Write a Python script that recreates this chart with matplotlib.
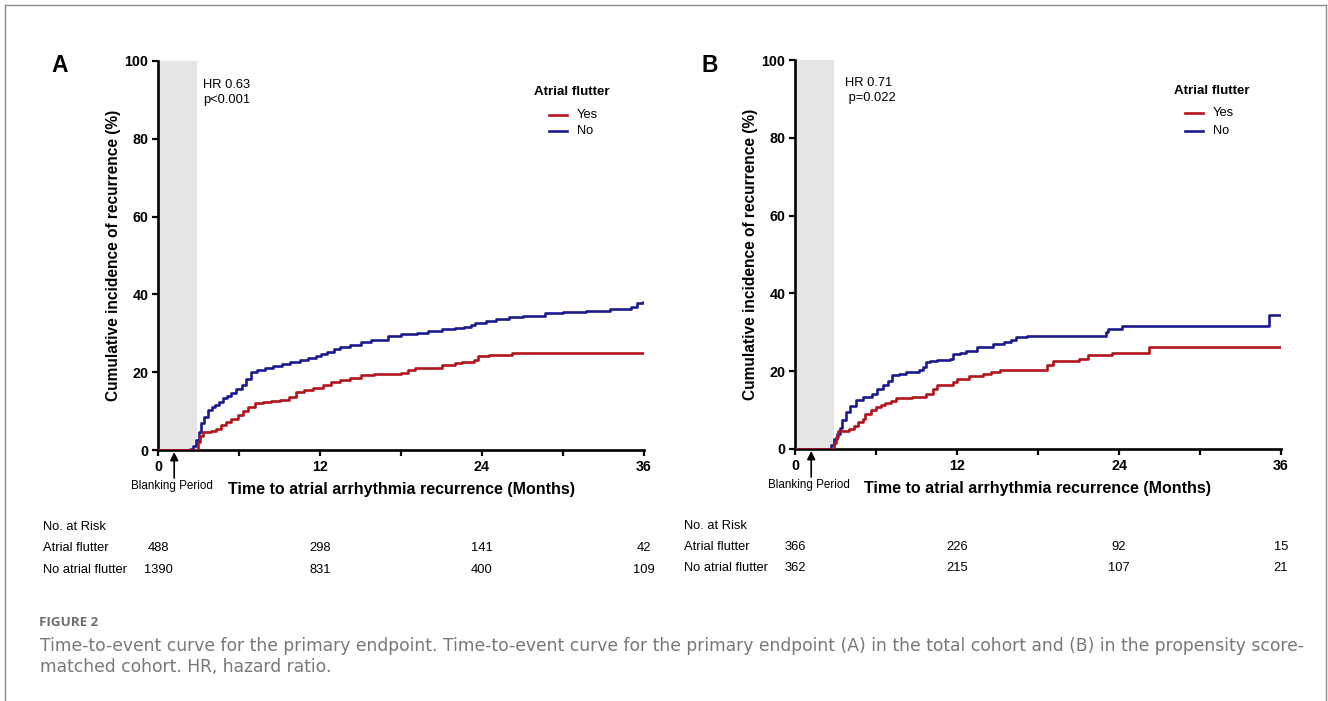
import matplotlib
matplotlib.use("Agg")
import matplotlib.pyplot as plt
from matplotlib.lines import Line2D
from matplotlib.transforms import blended_transform_factory

plt.rcParams['font.family'] = ['Liberation Sans', 'DejaVu Sans']

# ---------------- data ----------------
a_no_t = [0, 2.4, 2.6, 2.8, 3.0, 3.2, 3.4, 3.7, 4.0, 4.2, 4.5, 4.8, 5.1, 5.4, 5.8, 6.2, 6.5, 6.9, 7.3,
          7.9, 8.5, 9.2, 9.8, 10.5, 11.1, 11.7, 12.1, 12.5, 13.0, 13.5, 14.2, 15.0, 15.8, 17.0, 18.0,
          19.2, 20.0, 21.0, 22.0, 22.7, 23.2, 23.5, 24.3, 25.0, 26.0, 27.0, 28.7, 30.0, 31.7, 33.5,
          35.0, 35.5, 35.9, 36]
a_no_v = [0, 0.3, 1.0, 2.5, 4.5, 6.9, 8.5, 10.3, 11.0, 11.6, 12.4, 13.3, 13.9, 14.6, 15.6, 16.7, 18.2,
          20.1, 20.5, 21.0, 21.5, 22.1, 22.6, 23.1, 23.6, 24.2, 24.8, 25.3, 25.9, 26.4, 27.0, 27.8,
          28.3, 29.3, 29.7, 30.2, 30.6, 31.0, 31.3, 31.5, 32.2, 32.7, 33.2, 33.8, 34.1, 34.4, 35.1,
          35.4, 35.8, 36.2, 36.8, 37.7, 38.1, 38.1]
a_yes_t = [0, 2.95, 3.1, 3.3, 3.9, 4.3, 4.7, 5.0, 5.4, 5.9, 6.3, 6.7, 7.2, 7.8, 8.4, 9.0, 9.7, 10.2,
           10.8, 11.5, 12.2, 12.8, 13.5, 14.2, 15.0, 16.0, 18.0, 18.5, 19.0, 20.0, 21.0, 22.0, 22.5,
           23.4, 23.7, 24.5, 26.2, 36]
a_yes_v = [0, 2.0, 3.5, 4.5, 4.9, 5.5, 6.4, 7.2, 7.9, 9.0, 10.0, 11.1, 12.0, 12.4, 12.6, 12.9, 13.5,
           15.0, 15.5, 15.9, 16.8, 17.5, 18.1, 18.6, 19.3, 19.6, 19.7, 20.5, 21.0, 21.2, 21.9, 22.3,
           22.7, 23.2, 24.2, 24.3, 25.0, 25.0]

b_no_t = [0, 2.7, 2.9, 3.1, 3.3, 3.5, 3.8, 4.1, 4.5, 5.0, 5.7, 6.1, 6.5, 6.9, 7.2, 7.7, 8.2, 9.2, 9.5,
          9.7, 10.0, 10.5, 11.5, 11.7, 12.2, 12.7, 13.5, 14.7, 15.5, 16.0, 16.4, 17.2, 22.6, 23.0,
          23.2, 24.2, 35.0, 35.1, 36]
b_no_v = [0, 1.0, 2.5, 3.9, 5.5, 7.4, 9.5, 11.0, 12.5, 13.4, 14.2, 15.3, 16.4, 17.5, 19.0, 19.2, 19.8,
          20.2, 21.0, 22.4, 22.7, 23.0, 23.2, 24.5, 24.8, 25.2, 26.1, 26.9, 27.5, 28.1, 28.7, 29.0,
          29.0, 30.1, 30.9, 31.6, 31.6, 34.4, 34.4]
b_yes_t = [0, 2.9, 3.0, 3.2, 4.0, 4.4, 4.7, 5.0, 5.2, 5.6, 6.0, 6.4, 6.7, 7.1, 7.5, 8.7, 9.7, 10.2,
           10.5, 11.7, 12.0, 12.9, 13.9, 14.5, 15.2, 18.7, 19.1, 21.0, 21.7, 23.5, 26.2, 36]
b_yes_v = [0, 1.5, 3.0, 4.6, 5.2, 6.0, 6.9, 7.8, 9.1, 10.0, 10.8, 11.3, 11.7, 12.4, 13.0, 13.4, 14.2,
           15.5, 16.4, 17.2, 18.1, 18.7, 19.4, 19.9, 20.4, 21.5, 22.6, 23.2, 24.1, 24.7, 26.1, 26.1]

risk_times = [0, 12, 24, 36]
a_risk_af = [488, 298, 141, 42]
a_risk_noaf = [1390, 831, 400, 109]
b_risk_af = [366, 226, 92, 15]
b_risk_noaf = [362, 215, 107, 21]

legend_labels = ['Yes', 'No']

panels = [
    dict(letter="A", hr="HR 0.63\np<0.001", no=(a_no_t, a_no_v), yes=(a_yes_t, a_yes_v),
         risk=(a_risk_af, a_risk_noaf), left=158, top=61, bottom=450, tab_x=43,
         tab_y=(527, 548, 570), letter_x=60, letter_y=66, hr_x=203, hr_y=79,
         leg_title_x=572, leg_line_x=549, leg_y=(92, 115, 131)),
    dict(letter="B", hr="HR 0.71\n p=0.022", no=(b_no_t, b_no_v), yes=(b_yes_t, b_yes_v),
         risk=(b_risk_af, b_risk_noaf), left=795, top=60, bottom=449, tab_x=684,
         tab_y=(526, 547, 568), letter_x=710, letter_y=65, hr_x=845, hr_y=77,
         leg_title_x=1212, leg_line_x=1185, leg_y=(91, 113, 131)),
]

RED = '#B2151E'
BLUE = '#1B1B8E'
W, H = 1328, 701
fig = plt.figure(figsize=(W / 100, H / 100), dpi=100)


def fx(px):
    return px / W


def fy(py):
    return 1 - py / H


# frame around figure (open at bottom)
for xs, ys in [([4.5, 4.5], [701, 5]), ([4.5, 1325.5], [5, 5]), ([1325.5, 1325.5], [5, 701])]:
    fig.add_artist(Line2D([fx(x) for x in xs], [fy(y) for y in ys], transform=fig.transFigure,
                          color='#8a8a8a', lw=1.0))

for p in panels:
    axw = 486
    ax = fig.add_axes([fx(p['left']), fy(p['bottom']), axw / W, (p['bottom'] - p['top']) / H])
    ax.set_xlim(0, 36)
    ax.set_ylim(0, 100)
    ax.axvspan(0, 2.9, color='#e5e5e5', lw=0, zorder=0)
    ax.plot(p['yes'][0], p['yes'][1], drawstyle='steps-post', color=RED, lw=1.9, zorder=3)
    ax.plot(p['no'][0], p['no'][1], drawstyle='steps-post', color=BLUE, lw=1.9, zorder=2)
    for s in ['top', 'right']:
        ax.spines[s].set_visible(False)
    for s in ['left', 'bottom']:
        ax.spines[s].set_linewidth(1.9)
    ax.set_xticks([0, 12, 24, 36])
    ax.set_xticks([6, 18, 30], minor=True)
    ax.set_yticks([0, 20, 40, 60, 80, 100])
    ax.tick_params(axis='both', which='both', direction='out', length=4.5, width=1.6,
                   labelsize=10.3, pad=2.5)
    for lab in ax.get_xticklabels() + ax.get_yticklabels():
        lab.set_fontweight('bold')
    ax.set_ylabel('Cumulative incidence of recurrence (%)', fontsize=11.2, fontweight='bold')
    ax.yaxis.set_label_coords(-0.077, 0.5)
    ax.set_xlabel('Time to atrial arrhythmia recurrence (Months)', fontsize=11.5, fontweight='bold')
    ax.xaxis.set_label_coords(0.5, -0.081)
    fig.text(fx(p['hr_x']), fy(p['hr_y']), p['hr'], fontsize=9.3, va='top', ha='left',
             linespacing=1.3)
    # legend drawn manually
    ty = p['leg_y']
    fig.text(fx(p['leg_title_x']), fy(ty[0]), 'Atrial flutter', fontsize=9.6, fontweight='bold',
             ha='center', va='center')
    for lbl, col, yy in zip(legend_labels, [RED, BLUE], ty[1:]):
        fig.add_artist(Line2D([fx(p['leg_line_x']), fx(p['leg_line_x'] + 18)], [fy(yy), fy(yy)],
                              transform=fig.transFigure, color=col, lw=1.9))
        fig.text(fx(p['leg_line_x'] + 28), fy(yy), lbl, fontsize=9.3, ha='left', va='center')
    # blanking period arrow
    ax.annotate('', xy=(1.2, 0), xycoords='data', xytext=(1.2, -0.072),
                textcoords=('data', 'axes fraction'),
                arrowprops=dict(arrowstyle='-|>', color='black', lw=1.2, mutation_scale=12,
                                shrinkA=0, shrinkB=1.5), annotation_clip=False)
    ax.text(1.05, -0.093, 'Blanking Period',
            transform=blended_transform_factory(ax.transData, ax.transAxes),
            fontsize=8.4, ha='center', va='center')
    # panel letter
    fig.text(fx(p['letter_x']), fy(p['letter_y']), p['letter'], fontsize=16.5, fontweight='bold',
             ha='center', va='center')
    # risk table
    ry = p['tab_y']
    fig.text(fx(p['tab_x']), fy(ry[0]), 'No. at Risk', fontsize=9.3, va='center', ha='left')
    fig.text(fx(p['tab_x']), fy(ry[1]), 'Atrial flutter', fontsize=9.3, va='center', ha='left')
    fig.text(fx(p['tab_x']), fy(ry[2]), 'No atrial flutter', fontsize=9.3, va='center', ha='left')
    tr = blended_transform_factory(ax.transData, fig.transFigure)
    for tx, v1, v2 in zip(risk_times, p['risk'][0], p['risk'][1]):
        ax.text(tx, fy(ry[1]), str(v1), transform=tr, fontsize=9.3, ha='center', va='center')
        ax.text(tx, fy(ry[2]), str(v2), transform=tr, fontsize=9.3, ha='center', va='center')

# caption
cap_font = ['DejaVu Sans']
fig.text(fx(39), fy(623), 'FIGURE 2', fontsize=9.6, color='#6e6e6e', fontweight='bold',
         family=['Open Sans', 'DejaVu Sans'], va='center', ha='left')
fig.text(fx(40), fy(646),
         'Time-to-event curve for the primary endpoint. Time-to-event curve for the primary endpoint (A) '
         'in the total cohort and (B) in the propensity score-',
         fontsize=12.35, color='#787878', family=cap_font, va='center', ha='left')
fig.text(fx(40), fy(667), 'matched cohort. HR, hazard ratio.',
         fontsize=12.35, color='#787878', family=cap_font, va='center', ha='left')

fig.savefig('out.png', dpi=100, facecolor='white')
